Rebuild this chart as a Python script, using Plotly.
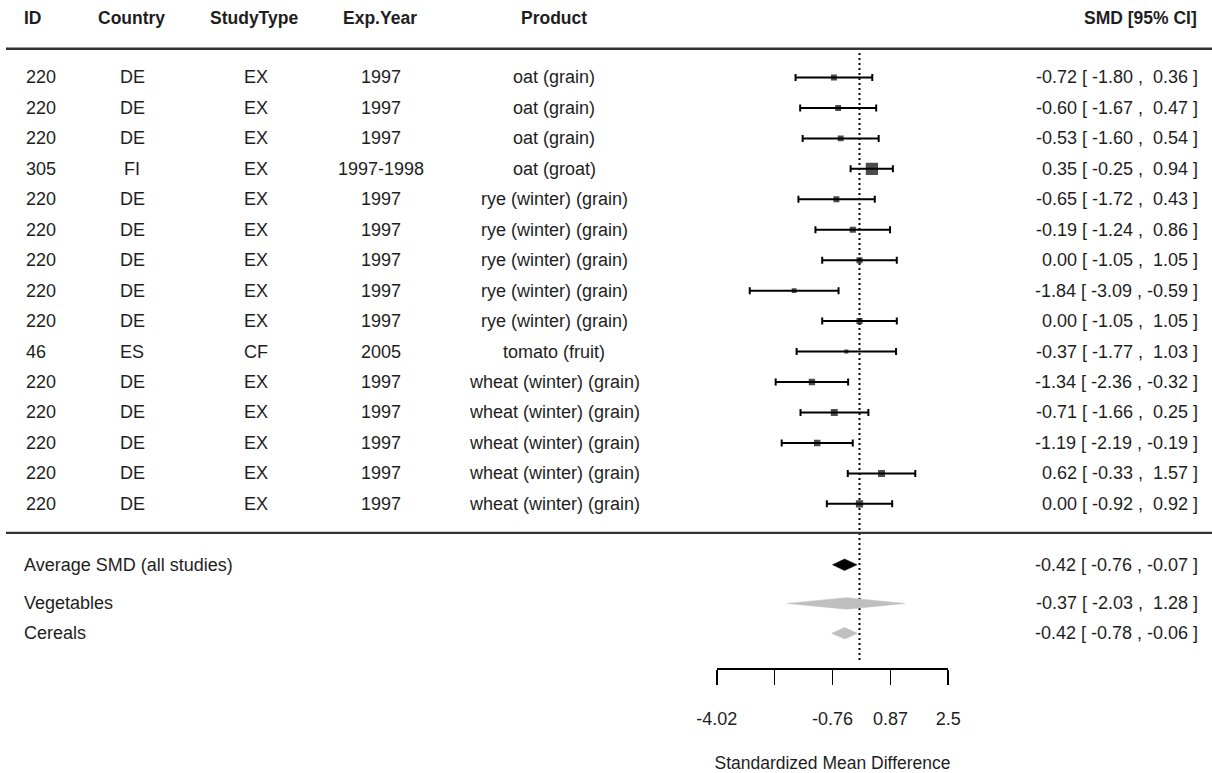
import plotly.graph_objects as go

# ---------------- data ----------------
study_id = ["220", "220", "220", "305", "220", "220", "220", "220", "220", "46",
            "220", "220", "220", "220", "220"]
country = ["DE", "DE", "DE", "FI", "DE", "DE", "DE", "DE", "DE", "ES",
           "DE", "DE", "DE", "DE", "DE"]
study_type = ["EX", "EX", "EX", "EX", "EX", "EX", "EX", "EX", "EX", "CF",
              "EX", "EX", "EX", "EX", "EX"]
exp_year = ["1997", "1997", "1997", "1997-1998", "1997", "1997", "1997", "1997", "1997",
            "2005", "1997", "1997", "1997", "1997", "1997"]
product = ["oat (grain)", "oat (grain)", "oat (grain)", "oat (groat)",
           "rye (winter) (grain)", "rye (winter) (grain)", "rye (winter) (grain)",
           "rye (winter) (grain)", "rye (winter) (grain)", "tomato (fruit)",
           "wheat (winter) (grain)", "wheat (winter) (grain)", "wheat (winter) (grain)",
           "wheat (winter) (grain)", "wheat (winter) (grain)"]
smd = [-0.72, -0.60, -0.53, 0.35, -0.65, -0.19, 0.00, -1.84, 0.00, -0.37,
       -1.34, -0.71, -1.19, 0.62, 0.00]
ci_lower = [-1.80, -1.67, -1.60, -0.25, -1.72, -1.24, -1.05, -3.09, -1.05, -1.77,
            -2.36, -1.66, -2.19, -0.33, -0.92]
ci_upper = [0.36, 0.47, 0.54, 0.94, 0.43, 0.86, 1.05, -0.59, 1.05, 1.03,
            -0.32, 0.25, -0.19, 1.57, 0.92]

summary_labels = ["Average SMD (all studies)", "Vegetables", "Cereals"]
summary_smd = [-0.42, -0.37, -0.42]
summary_lower = [-0.76, -2.03, -0.78]
summary_upper = [-0.07, 1.28, -0.06]

axis_tickvals = [-4.02, -2.39, -0.76, 0.87, 2.5]
axis_ticktext = ["-4.02", "", "-0.76", "0.87", "2.5"]
axis_title = "Standardized Mean Difference"

col_headers = ["ID", "Country", "StudyType", "Exp.Year", "Product", "SMD [95% CI]"]

# ---------------- layout constants ----------------
W, H = 1212, 773
FONT = "Liberation Sans, Arial, sans-serif"
TXT = "#1e1e1e"
FS = 18
SUM_COLORS = ["black", "#bfbfbf", "#bfbfbf"]
SUM_ROWS = [17.0, 18.27, 19.25]
HEADER_Y = -0.95
DIAMOND_H = 0.19

n = len(smd)
rows = list(range(1, n + 1))


def px(x):
    return x / W


def fmt_ci(e, lo, hi):
    s = f"{e:5.2f} [{lo:6.2f} , {hi:5.2f} ]"
    return s.replace(" ", "\u00a0")


# marker sizes from precision (1 / CI width), scaled like metafor's psize
prec = [1.0 / (u - l) for l, u in zip(ci_lower, ci_upper)]
pmin, pmax = min(prec), max(prec)
msize = [8.2 * (0.5 + (p - pmin) / (pmax - pmin)) for p in prec]

fig = go.Figure()

# reference line at 0
fig.add_trace(go.Scatter(
    x=[0, 0], y=[0.2, 20.22], mode="lines",
    line=dict(color="black", width=2, dash="2px,3px"),
    hoverinfo="skip", showlegend=False))

# study estimates with CIs
fig.add_trace(go.Scatter(
    x=smd, y=rows, mode="markers",
    marker=dict(symbol="square", size=msize, color="black", line=dict(width=0)),
    error_x=dict(type="data", symmetric=False,
                 array=[u - e for e, u in zip(smd, ci_upper)],
                 arrayminus=[e - l for e, l in zip(smd, ci_lower)],
                 color="black", thickness=2, width=3.5),
    showlegend=False, hoverinfo="x+y"))

# summary diamonds
for i in range(len(summary_smd)):
    yy = SUM_ROWS[i]
    fig.add_trace(go.Scatter(
        x=[summary_lower[i], summary_smd[i], summary_upper[i], summary_smd[i], summary_lower[i]],
        y=[yy, yy - DIAMOND_H, yy, yy + DIAMOND_H, yy],
        mode="lines", fill="toself", fillcolor=SUM_COLORS[i],
        line=dict(color=SUM_COLORS[i], width=0.5),
        showlegend=False, hoverinfo="skip"))

annotations = []


def add_text(x, y, text, anchor, bold=False, size=FS):
    annotations.append(dict(
        x=px(x), y=y, xref="paper", yref="y", text=f"<b>{text}</b>" if bold else text,
        showarrow=False, xanchor=anchor, yanchor="middle",
        font=dict(family=FONT, size=size, color=TXT)))


# headers
hdr_pos = [(22, "left"), (131, "center"), (254, "center"), (380, "center"),
           (554, "center"), (1199, "right")]
for (x, a), t in zip(hdr_pos, col_headers):
    add_text(x, HEADER_Y, t, a, bold=True, size=17.5)

# study rows
for i in range(n):
    r = rows[i]
    add_text(24, r, study_id[i], "left")
    add_text(132, r, country[i], "center")
    add_text(256, r, study_type[i], "center")
    add_text(381, r, exp_year[i], "center")
    add_text(554, r, product[i], "center")
    add_text(1200, r, fmt_ci(smd[i], ci_lower[i], ci_upper[i]), "right")

# summary rows
for i in range(len(summary_smd)):
    add_text(22, SUM_ROWS[i], summary_labels[i], "left")
    add_text(1200, SUM_ROWS[i],
             fmt_ci(summary_smd[i], summary_lower[i], summary_upper[i]), "right")

shapes = [
    dict(type="line", xref="paper", yref="y", x0=px(6), x1=1, y0=0.06, y1=0.06,
         line=dict(color="#333333", width=2.5)),
    dict(type="line", xref="paper", yref="y", x0=px(6), x1=1, y0=15.95, y1=15.95,
         line=dict(color="#333333", width=2.2)),
]

fig.update_layout(
    width=W, height=H,
    margin=dict(l=0, r=0, t=0, b=105),
    paper_bgcolor="white", plot_bgcolor="white",
    annotations=annotations, shapes=shapes,
    showlegend=False,
    xaxis=dict(
        domain=[px(716.7), px(948.3)], range=[-4.02, 2.5],
        showgrid=False, zeroline=False,
        showline=True, linecolor="black", linewidth=1.6,
        ticks="outside", ticklen=15, tickwidth=1.6, tickcolor="black",
        tickvals=axis_tickvals, ticktext=axis_ticktext,
        tickfont=dict(family=FONT, size=18, color=TXT),
        ticklabelstandoff=19,
        title=dict(text=axis_title, standoff=29,
                   font=dict(family=FONT, size=17.5, color=TXT)),
        automargin=False, fixedrange=True,
    ),
    yaxis=dict(
        domain=[0, 1], range=[20.39, -1.544],
        showgrid=False, zeroline=False, showline=False,
        showticklabels=False, ticks="", automargin=False, fixedrange=True,
    ),
)

fig.write_html("out.html", config={"displayModeBar": False, "staticPlot": True},
               post_script="document.body.style.margin='0';")
